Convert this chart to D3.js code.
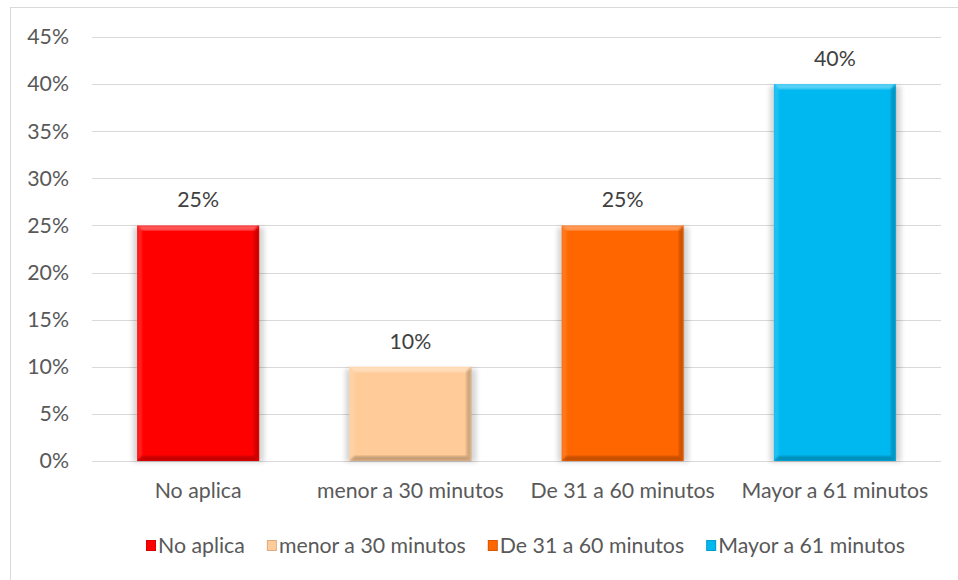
<!DOCTYPE html>
<html>
<head>
<meta charset="utf-8">
<script src="https://cdn.jsdelivr.net/npm/d3@7"></script>
<style>
  html, body { margin: 0; padding: 0; background: #ffffff; }
  svg { display: block; font-family: Lato, "Liberation Sans", sans-serif; }
</style>
</head>
<body>
<svg id="chart" width="958" height="580"></svg>
<script>
// Share of respondents by time category
const categories = ["No aplica", "menor a 30 minutos", "De 31 a 60 minutos", "Mayor a 61 minutos"];
const values = [0.25, 0.10, 0.25, 0.40];
const colors = ["#ff0000", "#ffcc99", "#ff6600", "#00b8f0"];
const yTicks = [0, 0.05, 0.10, 0.15, 0.20, 0.25, 0.30, 0.35, 0.40, 0.45];

const svg = d3.select("#chart");
const W = 958, H = 580;
const plot = { left: 92, right: 941, top: 37, bottom: 461 };
const FS = 21.3;

// Outer chart frame
svg.append("rect")
  .attr("x", 10.5).attr("y", 7.5)
  .attr("width", W - 10).attr("height", H - 6)
  .attr("fill", "#fff").attr("stroke", "#d9d9d9").attr("stroke-width", 1);

const x = d3.scaleBand().domain(categories).range([plot.left, plot.right]).paddingInner(0.425).paddingOuter(0.2125);
const y = d3.scaleLinear().domain([0, 0.45]).range([plot.bottom, plot.top]);

// Gridlines
svg.append("g").selectAll("line").data(yTicks).join("line")
  .attr("x1", plot.left).attr("x2", plot.right)
  .attr("y1", d => Math.round(y(d)) + 0.5).attr("y2", d => Math.round(y(d)) + 0.5)
  .attr("stroke", "#d9d9d9").attr("stroke-width", 1);

// Y axis labels
const yAxis = d3.axisLeft(y).tickValues(yTicks).tickFormat(d3.format(".0%")).tickSize(0).tickPadding(23);
const yg = svg.append("g").attr("transform", `translate(${plot.left},0)`).call(yAxis);
yg.select(".domain").remove();
yg.selectAll("text").attr("fill", "#595959").attr("font-size", FS).style("font-family", "Lato, sans-serif");

// X axis labels
const xAxis = d3.axisBottom(x).tickSize(0).tickPadding(22);
const xg = svg.append("g").attr("transform", `translate(0,${plot.bottom})`).call(xAxis);
xg.select(".domain").remove();
xg.selectAll("text").attr("fill", "#595959").attr("font-size", FS).style("font-family", "Lato, sans-serif");

// Soft shadow and bevel filters
const defs = svg.append("defs");
const blur = defs.append("filter").attr("id", "soft").attr("x", "-20%").attr("y", "-20%").attr("width", "140%").attr("height", "140%");
blur.append("feGaussianBlur").attr("stdDeviation", 2.5);
const bevelBlur = defs.append("filter").attr("id", "bevel");
bevelBlur.append("feGaussianBlur").attr("stdDeviation", 0.8);

const bars = svg.append("g").selectAll("g").data(categories).join("g");

// Shadow behind each bar
bars.append("rect")
  .attr("x", d => x(d) - 4)
  .attr("y", (d, i) => y(values[i]) + 2)
  .attr("width", x.bandwidth() + 9)
  .attr("height", (d, i) => y(0) - y(values[i]) - 1)
  .attr("fill", "#000").attr("opacity", 0.16).attr("filter", "url(#soft)");

// Bar body
bars.append("rect")
  .attr("x", d => x(d))
  .attr("y", (d, i) => y(values[i]))
  .attr("width", x.bandwidth())
  .attr("height", (d, i) => y(0) - y(values[i]))
  .attr("fill", (d, i) => colors[i]);

// Bevelled edges
const bv = 5;
function edges(d, i) {
  const x0 = x(d), x1 = x(d) + x.bandwidth(), y0 = y(values[i]), y1 = y(0);
  return [
    { pts: [[x0, y0], [x1, y0], [x1 - bv, y0 + bv], [x0 + bv, y0 + bv]], c: "#fff", o: 0.35 },
    { pts: [[x0, y0], [x0 + bv, y0 + bv], [x0 + bv, y1 - bv], [x0, y1]], c: "#fff", o: 0.12 },
    { pts: [[x1, y0], [x1, y1], [x1 - bv, y1 - bv], [x1 - bv, y0 + bv]], c: "#000", o: 0.18 },
    { pts: [[x0, y1], [x0 + bv, y1 - bv], [x1 - bv, y1 - bv], [x1, y1]], c: "#000", o: 0.22 }
  ];
}
bars.each(function (d, i) {
  d3.select(this).selectAll("polygon.edge").data(edges(d, i)).join("polygon")
    .attr("class", "edge")
    .attr("points", e => e.pts.map(p => p.join(",")).join(" "))
    .attr("fill", e => e.c).attr("opacity", e => e.o)
    .attr("filter", "url(#bevel)");
});

// Value labels
bars.append("text")
  .attr("x", d => x(d) + x.bandwidth() / 2)
  .attr("y", (d, i) => y(values[i]) - 18)
  .attr("text-anchor", "middle")
  .attr("fill", "#404040").attr("font-size", FS)
  .text((d, i) => d3.format(".0%")(values[i]));

// Legend, centred under the plot
const legend = svg.append("g");
let lx = 0;
categories.forEach((c, i) => {
  const g = legend.append("g").attr("transform", `translate(${lx},0)`);
  g.append("rect").attr("x", 0).attr("y", -6).attr("width", 10).attr("height", 11).attr("fill", colors[i]);
  g.append("rect").attr("x", 0.5).attr("y", -5.5).attr("width", 9).attr("height", 10).attr("fill", "none")
    .attr("stroke", "#000").attr("stroke-opacity", 0.15);
  const t = g.append("text").attr("x", 12).attr("y", 7).attr("fill", "#595959").attr("font-size", FS).text(c);
  lx += 12 + t.node().getComputedTextLength() + (i < categories.length - 1 ? 22 : 0);
});
legend.attr("transform", `translate(${Math.round(525 - lx / 2)},546)`);
</script>
</body>
</html>
